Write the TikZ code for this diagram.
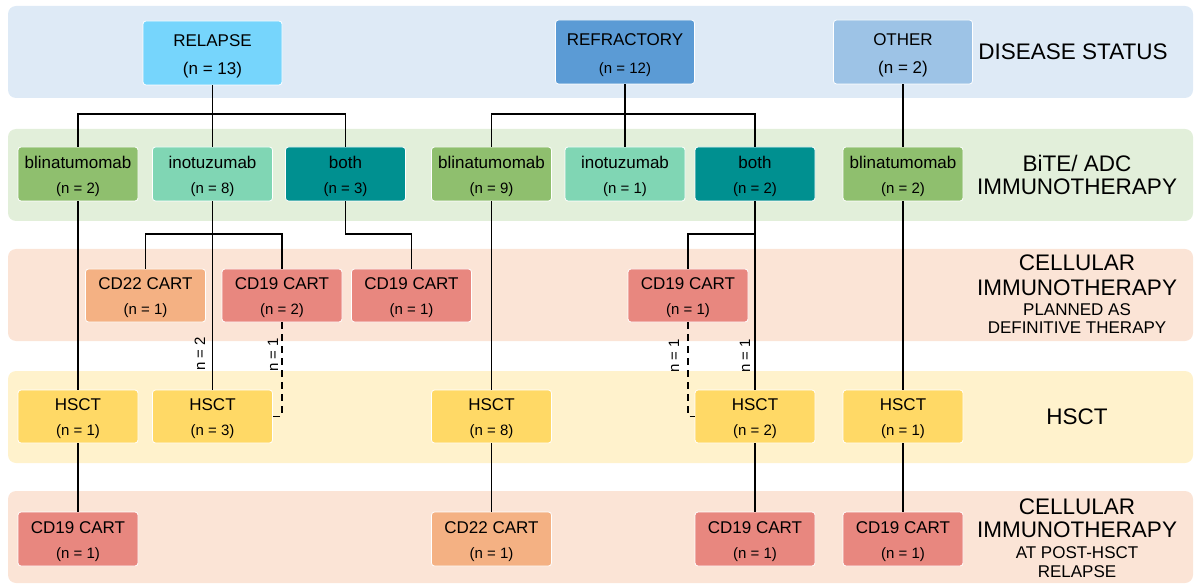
\documentclass[tikz,border=0pt]{standalone}
\usepackage{fontspec}
\setmainfont{Liberation Sans}
\definecolor{bandblue}{HTML}{DEEAF6}
\definecolor{bandgreen}{HTML}{E2EFDA}
\definecolor{bandpeach}{HTML}{FBE4D6}
\definecolor{bandyellow}{HTML}{FFF2CC}
\definecolor{crelapse}{HTML}{76D5FC}
\definecolor{crefr}{HTML}{5B9BD5}
\definecolor{cother}{HTML}{9DC3E6}
\definecolor{cblina}{HTML}{8FBF6E}
\definecolor{cino}{HTML}{80D6B4}
\definecolor{cboth}{HTML}{009090}
\definecolor{ccdtwo}{HTML}{F4B183}
\definecolor{ccdnine}{HTML}{E8877F}
\definecolor{chsct}{HTML}{FFD966}
\newcommand{\nlab}[1]{{\fontsize{15}{25}\selectfont #1}}
\begin{document}
\begin{tikzpicture}[x=1pt,y=-1pt,
  band/.style={rounded corners=8pt},
  box/.style={rounded corners=3pt, draw=white, line width=0.8pt, minimum width=120pt,
    minimum height=54pt, inner sep=0pt, align=center, text=black,
    font=\fontsize{17}{25}\selectfont},
  bigbox/.style={box, minimum width=139pt, minimum height=64pt, font=\fontsize{17}{28}\selectfont},
  conn/.style={line width=1.9pt, black},
  dconn/.style={conn, dash pattern=on 7pt off 5pt},
  sidebig/.style={inner sep=0pt, text=black, font=\fontsize{22.5}{24}\selectfont},
  sidesmall/.style={inner sep=0pt, text=black, font=\fontsize{17}{18}\selectfont},
  vlab/.style={inner sep=0pt, rotate=90, text=black, font=\fontsize{15}{18}\selectfont}
]
\useasboundingbox (0,0) rectangle (1196,585);
% bands
\fill[bandblue, band] (8,6) rectangle (1193,98);
\fill[bandgreen, band] (8,129) rectangle (1193,221);
\fill[bandpeach, band] (8,249) rectangle (1193,341);
\fill[bandyellow, band] (8,371) rectangle (1193,463);
\fill[bandpeach, band] (8,491) rectangle (1193,583);

% side labels
\node[sidebig] (s1) at (1073,52) {DISEASE STATUS};
\node[sidebig] (s2a) at (1077,163) {BiTE/ ADC};
\node[sidebig] (s2b) at (1077,187) {IMMUNOTHERAPY};
\node[sidebig] (s3a) at (1077,263) {CELLULAR};
\node[sidebig] (s3b) at (1077,288) {IMMUNOTHERAPY};
\node[sidesmall] (s3c) at (1077,310) {PLANNED AS};
\node[sidesmall] (s3d) at (1077,328) {DEFINITIVE THERAPY};
\node[sidebig] (s4) at (1077,417) {HSCT};
\node[sidebig] (s5a) at (1077,507) {CELLULAR};
\node[sidebig] (s5b) at (1077,530) {IMMUNOTHERAPY};
\node[sidesmall] (s5c) at (1077,553) {AT POST-HSCT};
\node[sidesmall] (s5d) at (1077,572) {RELAPSE};

% row 1
\node[bigbox, fill=crelapse] (rel) at (212.5,53) {\rule{0pt}{18pt}RELAPSE\\(n = 13)};
\node[bigbox, fill=crefr] (ref) at (625,52) {\rule{0pt}{18pt}REFRACTORY\\\nlab{(n = 12)}};
\node[bigbox, fill=cother] (oth) at (903,52) {\rule{0pt}{18pt}OTHER\\(n = 2)};

% row 2
\node[box, fill=cblina] (b1) at (78,174) {\rule{0pt}{17pt}blinatumomab\\\nlab{(n = 2)}};
\node[box, fill=cino] (i1) at (212.5,174) {\rule{0pt}{17pt}inotuzumab\\\nlab{(n = 8)}};
\node[box, fill=cboth] (bo1) at (345.5,174) {\rule{0pt}{17pt}both\\\nlab{(n = 3)}};
\node[box, fill=cblina] (b2) at (491.5,174) {\rule{0pt}{17pt}blinatumomab\\\nlab{(n = 9)}};
\node[box, fill=cino] (i2) at (625,174) {\rule{0pt}{17pt}inotuzumab\\\nlab{(n = 1)}};
\node[box, fill=cboth] (bo2) at (755,174) {\rule{0pt}{17pt}both\\\nlab{(n = 2)}};
\node[box, fill=cblina] (b3) at (903,174) {\rule{0pt}{17pt}blinatumomab\\\nlab{(n = 2)}};

% row 3
\node[box, fill=ccdtwo, minimum height=53pt] (c22a) at (145.5,295.5) {\rule{0pt}{17pt}CD22 CART\\\nlab{(n = 1)}};
\node[box, fill=ccdnine, minimum height=53pt] (c19a) at (282,295.5) {\rule{0pt}{17pt}CD19 CART\\\nlab{(n = 2)}};
\node[box, fill=ccdnine, minimum height=53pt] (c19b) at (411.5,295.5) {\rule{0pt}{17pt}CD19 CART\\\nlab{(n = 1)}};
\node[box, fill=ccdnine, minimum height=53pt] (c19c) at (688,295.5) {\rule{0pt}{17pt}CD19 CART\\\nlab{(n = 1)}};

% row 4
\node[box, fill=chsct, minimum height=53pt] (h1) at (78,416.5) {\rule{0pt}{17pt}HSCT\\\nlab{(n = 1)}};
\node[box, fill=chsct, minimum height=53pt] (h3) at (212.5,416.5) {\rule{0pt}{17pt}HSCT\\\nlab{(n = 3)}};
\node[box, fill=chsct, minimum height=53pt] (h8) at (491.5,416.5) {\rule{0pt}{17pt}HSCT\\\nlab{(n = 8)}};
\node[box, fill=chsct, minimum height=53pt] (h2) at (755,416.5) {\rule{0pt}{17pt}HSCT\\\nlab{(n = 2)}};
\node[box, fill=chsct, minimum height=53pt] (h4) at (903,416.5) {\rule{0pt}{17pt}HSCT\\\nlab{(n = 1)}};

% row 5
\node[box, fill=ccdnine] (p1) at (78,539) {\rule{0pt}{17pt}CD19 CART\\\nlab{(n = 1)}};
\node[box, fill=ccdtwo] (p2) at (491.5,539) {\rule{0pt}{17pt}CD22 CART\\\nlab{(n = 1)}};
\node[box, fill=ccdnine] (p3) at (755,539) {\rule{0pt}{17pt}CD19 CART\\\nlab{(n = 1)}};
\node[box, fill=ccdnine] (p4) at (903,539) {\rule{0pt}{17pt}CD19 CART\\\nlab{(n = 1)}};

% junctions
\coordinate (j1) at (212.5,114);
\coordinate (j2) at (625,114);
\coordinate (j3) at (212.5,234);
\coordinate (j4) at (345.5,234);
\coordinate (j5) at (755,234);

% connectors row1 -> row2
\draw[conn] (rel.south) -- (j1);
\draw[conn] (b1.north) |- (j1) -| (bo1.north);
\draw[conn] (j1) -- (i1.north);
\draw[conn] (ref.south) -- (j2);
\draw[conn] (b2.north) |- (j2) -| (bo2.north);
\draw[conn] (j2) -- (i2.north);
\draw[conn] (oth.south) -- (b3.north);

% row2 -> row3/4
\draw[conn] (i1.south) -- (h3.north);
\draw[conn] (c22a.north) |- (j3) -| (c19a.north);
\draw[conn] (bo1.south) -- (j4) -| (c19b.north);
\draw[conn] (b1.south) -- (h1.north);
\draw[conn] (b2.south) -- (h8.north);
\draw[conn] (bo2.south) -- (h2.north);
\draw[conn] (j5) -| (c19c.north);
\draw[conn] (b3.south) -- (h4.north);

% dashed
\draw[dconn] (c19a.south) |- (h3.east);
\draw[dconn] (c19c.south) |- (h2.west);

% row4 -> row5
\draw[conn] (h1.south) -- (p1.north);
\draw[conn] (h8.south) -- (p2.north);
\draw[conn] (h2.south) -- (p3.north);
\draw[conn] (h4.south) -- (p4.north);

% vertical count labels
\node[vlab] (n1) at (200,354) {n = 2};
\node[vlab] (n2) at (273,355) {n = 1};
\node[vlab] (n3) at (674,356) {n = 1};
\node[vlab] (n4) at (745,356) {n = 1};
\end{tikzpicture}
\end{document}
